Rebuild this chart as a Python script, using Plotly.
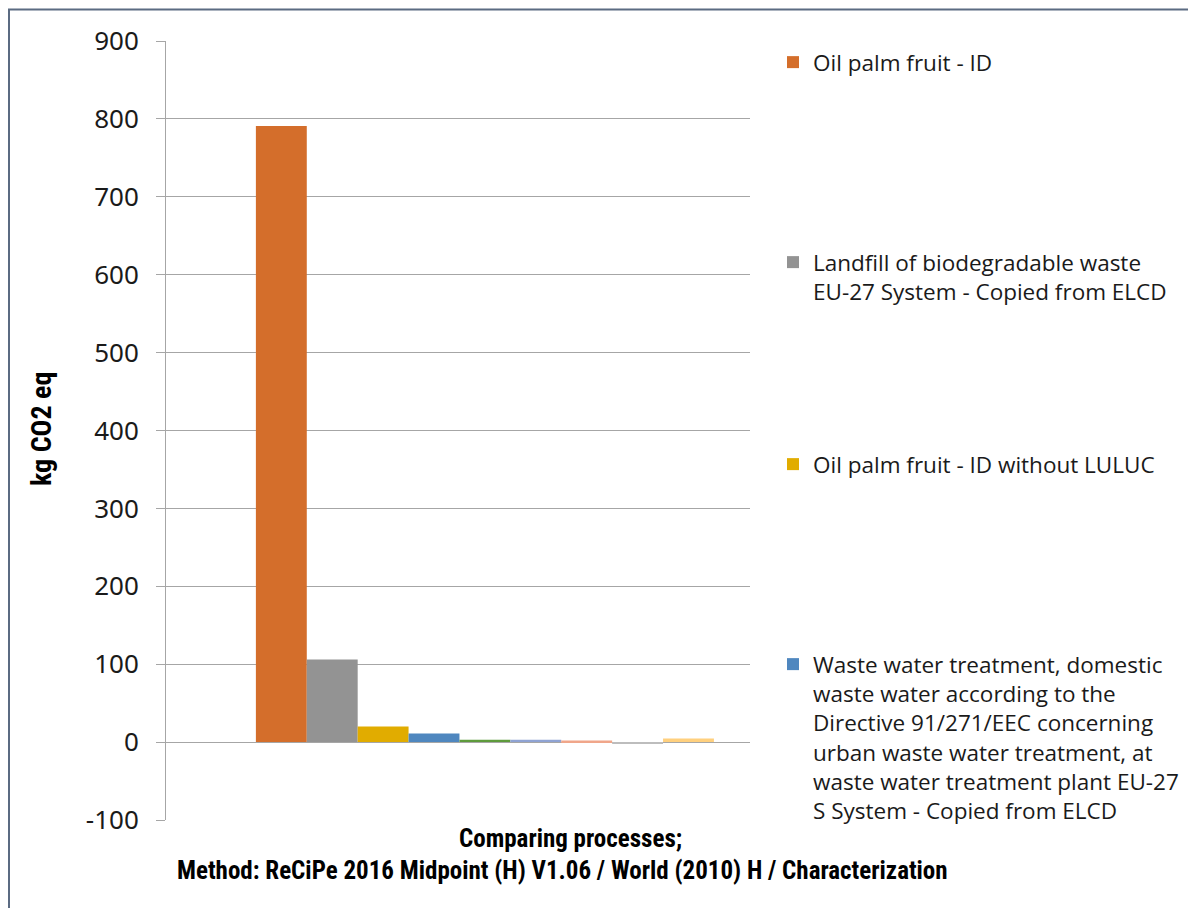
import plotly.graph_objects as go

# ---- data ----
category = ["Comparing processes"]
series_names = [
    "Oil palm fruit - ID",
    "Landfill of biodegradable waste<br>EU-27 System - Copied from ELCD",
    "Oil palm fruit - ID without LULUC",
    "Waste water treatment, domestic<br>waste water according to the<br>Directive 91/271/EEC concerning<br>urban waste water treatment, at<br>waste water treatment plant EU-27<br>S System - Copied from ELCD",
    "Process 5",
    "Process 6",
    "Process 7",
    "Process 8",
    "Process 9",
]
series_values = [791, 106, 20, 11, 3, 3, 2, -2.5, 4.5]
series_colors = ["#D46E2B", "#939393", "#E1AC00", "#4F87BF", "#5E9B3C",
                 "#8FA3D3", "#F0A68A", "#BDBDBD", "#FFD07E"]
y_ticks = [-100, 0, 100, 200, 300, 400, 500, 600, 700, 800, 900]
y_title = "kg CO2 eq"
x_title_lines = ["Comparing processes;",
                 "Method: ReCiPe 2016 Midpoint (H) V1.06 / World (2010) H / Characterization"]

OFF = 8  # page body margin
W, H = 1196, 908
L, R, T, B = 166, 750, 41, 820
pw, ph = R - L, B - T
FW, FH = W - OFF, H - OFF

def py(ypix):
    return (B - ypix) / ph

def px(xpix):
    return (xpix - L) / pw

def cx(xpix):
    return (xpix - OFF) / FW

def cy(ypix):
    return (H - ypix) / FH

fig = go.Figure()
for i, (n, v, c) in enumerate(zip(series_names, series_values, series_colors)):
    kw = {}
    if i < 4:
        kw["legend"] = "legend" if i == 0 else f"legend{i+1}"
        kw["showlegend"] = True
    else:
        kw["showlegend"] = False
    fig.add_trace(go.Bar(x=category, y=[v], name=n, marker=dict(color=c, line=dict(width=0)), **kw))

legend_font = dict(family="Open Sans, Noto Sans, sans-serif", size=22.5, color="#1A1A1A")
legend_tops = [41, 241, 443, 643]
layout_legends = {}
for i, top in enumerate(legend_tops):
    key = "legend" if i == 0 else f"legend{i+1}"
    layout_legends[key] = dict(
        x=cx(773), y=cy(top), xanchor="left", yanchor="top",
        xref="container", yref="container",
        font=legend_font, valign="top", bgcolor="rgba(0,0,0,0)",
        borderwidth=0, itemclick=False, itemdoubleclick=False,
    )

title_font = dict(family="Liberation Sans Narrow, Arial Narrow, Roboto Condensed, sans-serif", size=25, color="#000000")

fig.update_layout(
    width=FW, height=FH,
    margin=dict(l=L - OFF, r=W - R, t=T - OFF, b=H - B, pad=0, autoexpand=False),
    paper_bgcolor="white", plot_bgcolor="white",
    barmode="group", bargap=0.2, bargroupgap=0,
    xaxis=dict(type="category", range=[-0.557, 0.463], showticklabels=False,
               showgrid=False, zeroline=False, showline=False, ticks=""),
    yaxis=dict(range=[-100, 900], tickvals=y_ticks, ticktext=[str(t) for t in y_ticks],
               showgrid=True, gridcolor="#A6A6A6", gridwidth=1,
               zeroline=True, zerolinecolor="#A6A6A6", zerolinewidth=1,
               showline=True, linecolor="#A6A6A6", linewidth=1,
               ticks="outside", ticklen=9, tickcolor="#A6A6A6", ticklabelstandoff=12,
               tickfont=dict(family="Noto Sans, Open Sans, sans-serif", size=26, color="#1A1A1A")),
    **layout_legends,
    annotations=[
        dict(text=f"<b>{y_title}</b>", xref="paper", yref="paper",
             x=px(41), y=py(429), xanchor="center", yanchor="middle", textangle=-90,
             showarrow=False, font=dict(title_font, size=28)),
        dict(text=f"<b>{x_title_lines[0]}</b>", xref="paper", yref="paper",
             x=px(570), y=py(838), xanchor="center", yanchor="middle",
             showarrow=False, font=title_font),
        dict(text=f"<b>{x_title_lines[1]}</b>",
             xref="paper", yref="paper", x=px(562), y=py(870), xanchor="center", yanchor="middle",
             showarrow=False, font=title_font),
    ],
    shapes=[
        dict(type="rect", xref="paper", yref="paper", x0=px(9), x1=px(1400), y0=py(1100), y1=py(9.5),
             line=dict(color="#5B6B82", width=2), fillcolor="rgba(0,0,0,0)", layer="above"),
    ],
)

fig.write_html("out.html")
